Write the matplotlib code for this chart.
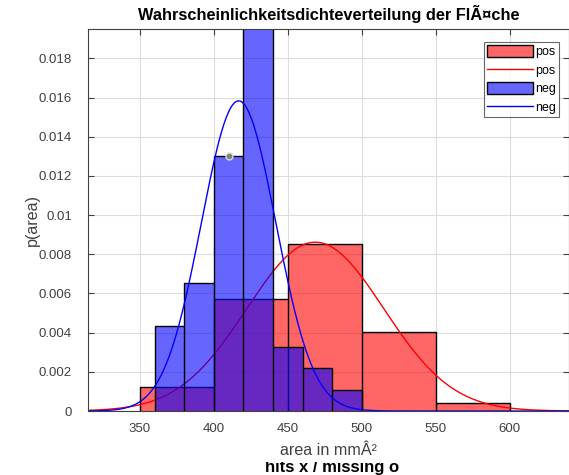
import matplotlib
matplotlib.use("Agg")
import matplotlib.pyplot as plt
import numpy as np
from matplotlib.lines import Line2D
from matplotlib.patches import Patch, Rectangle
from matplotlib.ticker import FormatStrFormatter


# normalised histograms (probability density)
pos_edges = [350, 400, 450, 500, 550, 600]
pos_density = [0.00121, 0.00570, 0.00855, 0.00404, 0.00039]

neg_edges = [360, 380, 400, 420, 440, 460, 480, 500]
neg_density = [0.00433, 0.00651, 0.01300, 0.01960, 0.00325, 0.00218, 0.00107]

# fitted normal distributions
pos_mu, pos_sigma = 468.6, 46.3
neg_mu, neg_sigma = 416.8, 25.2

# data tip marker
tip_x, tip_y = [410], [0.0130]

x_ticks = [350, 400, 450, 500, 550, 600]
y_ticks = [0, 0.002, 0.004, 0.006, 0.008, 0.01, 0.012, 0.014, 0.016, 0.018]


def normpdf(x, mu, sigma):
    return np.exp(-0.5 * ((x - mu) / sigma) ** 2) / (sigma * np.sqrt(2 * np.pi))


def draw_hist(ax, edges, dens, color, z):
    ax.stairs(dens, edges, fill=True, facecolor=color, alpha=0.6, zorder=z)
    ax.stairs(dens, edges, fill=False, edgecolor="black", lw=1.0, zorder=z + 0.05)
    ax.vlines(edges[1:-1], 0, np.minimum(dens[:-1], dens[1:]),
              colors="black", lw=1.0, zorder=z + 0.05)


plt.rcParams["font.family"] = ["Liberation Sans", "DejaVu Sans"]

fig = plt.figure(figsize=(5.69, 4.75), dpi=100)
ax = fig.add_axes([0.1547, 0.1347, 0.845, 0.8043])
ax.set_axisbelow(True)

xs = np.linspace(315, 640, 400)

draw_hist(ax, pos_edges, pos_density, "red", 1.0)
ax.plot(xs, normpdf(xs, pos_mu, pos_sigma), color="red", lw=1.0, zorder=1.2)
draw_hist(ax, neg_edges, neg_density, "blue", 1.3)
ax.plot(xs, normpdf(xs, neg_mu, neg_sigma), color="blue", lw=1.0, zorder=1.5)

ax.plot(tip_x, tip_y, "o", color="#7f7f7f", markeredgecolor="#d9d9d9",
        markersize=5, markeredgewidth=1, zorder=3)

ax.set_xlim(315, 640)
ax.set_ylim(0, 0.0195)
ax.set_xticks(x_ticks)
ax.set_yticks(y_ticks)
ax.yaxis.set_major_formatter(FormatStrFormatter("%g"))
ax.grid(True, color="#dcdcdc", lw=0.8)
ax.tick_params(direction="in", length=4, width=0.8, colors="#404040",
               labelsize=9.5, top=True, right=True)
ax.tick_params(axis="x", pad=8.5)
ax.tick_params(axis="y", pad=11.5)
for s in ax.spines.values():
    s.set_color("#404040")
    s.set_linewidth(0.8)

ax.set_title("Wahrscheinlichkeitsdichteverteilung der FlÃ¤che",
             fontsize=11.8, fontweight="bold", pad=6.5)
ax.set_ylabel("p(area)", fontsize=11.6, color="#404040", labelpad=-0.5)
ax.set_xlabel("area in mmÂ²", fontsize=11.6, color="#404040", labelpad=6)

# second label line, its top hidden behind the first one like in the original
fig.text(0.584, 0.0063, "hits x / missing o", ha="center", va="baseline",
         fontsize=12, fontweight="bold", zorder=1)
fig.add_artist(Rectangle((0.44, 0.0274), 0.30, 0.0105, transform=fig.transFigure,
                         facecolor="white", edgecolor="none", zorder=2))

handles = [
    Patch(facecolor="#ff6666", edgecolor="black", lw=1.0),
    Line2D([], [], color="red", lw=1.0),
    Patch(facecolor="#6666ff", edgecolor="black", lw=1.0),
    Line2D([], [], color="blue", lw=1.0),
]
leg = ax.legend(handles, ["pos", "pos", "neg", "neg"], loc="upper right",
                bbox_to_anchor=(0.9796, 0.966), fontsize=9,
                frameon=True, fancybox=False, edgecolor="#404040",
                handlelength=3.7, handleheight=1.07, handletextpad=0.16,
                labelspacing=0.43, borderpad=0.25, borderaxespad=0)
leg.get_frame().set_linewidth(0.8)

fig.savefig("out.png", dpi=100)
